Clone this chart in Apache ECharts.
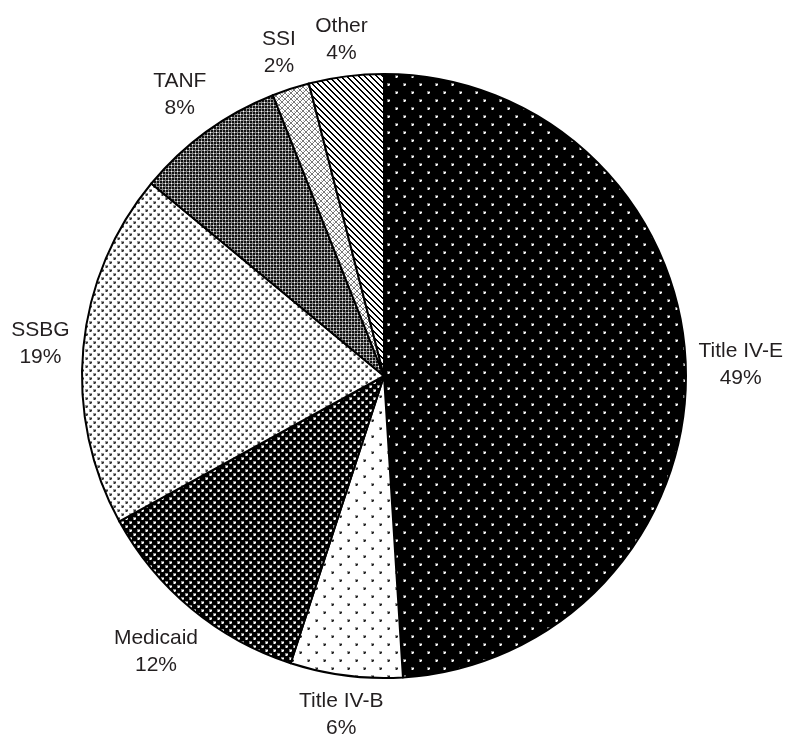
<!DOCTYPE html>
<html>
<head>
<meta charset="utf-8">
<script src="https://cdn.jsdelivr.net/npm/echarts@6/dist/echarts.min.js"></script>
<style>
  html, body { margin: 0; padding: 0; background: #fff; }
  #chart { width: 789px; height: 739px; }
</style>
</head>
<body>
<div id="chart"></div>
<script>
// Funding sources, clockwise from 12 o'clock
const categories = ['Title IV-E', 'Title IV-B', 'Medicaid', 'SSBG', 'TANF', 'SSI', 'Other'];
const shares = [49, 6, 12, 19, 8, 2, 4];

// Pie geometry
const CX = 384, CY = 376, R = 302, LABEL_GAP = 12;

// Small canvas tiles used as repeating fill patterns
function tile(w, h, draw) {
  const c = document.createElement('canvas');
  c.width = w; c.height = h;
  const g = c.getContext('2d');
  draw(g, w, h);
  return c;
}
function dot(g, x, y, core, halo) {
  g.fillStyle = halo; g.fillRect(x - 1, y - 1, 3, 3);
  g.fillStyle = core;
  g.fillRect(x, y, 2, 1); g.fillRect(x, y, 1, 2);
}

const fills = [
  // sparse white dots on black
  tile(16, 16, (g, w, h) => {
    g.fillStyle = '#000'; g.fillRect(0, 0, w, h);
    dot(g, 4, 4, '#fff', '#777'); dot(g, 12, 12, '#fff', '#777');
  }),
  // sparse dark dots on white
  tile(16, 16, (g, w, h) => {
    g.fillStyle = '#fff'; g.fillRect(0, 0, w, h);
    dot(g, 4, 4, '#222', '#999'); dot(g, 12, 12, '#222', '#999');
  }),
  // dense white dots on black
  tile(8, 8, (g, w, h) => {
    g.fillStyle = '#000'; g.fillRect(0, 0, w, h);
    dot(g, 2, 2, '#fff', '#888'); dot(g, 6, 6, '#fff', '#888');
  }),
  // dense grey dots on white
  tile(8, 8, (g, w, h) => {
    g.fillStyle = '#fff'; g.fillRect(0, 0, w, h);
    dot(g, 2, 2, '#333', '#999'); dot(g, 6, 6, '#333', '#999');
  }),
  // dark plaid
  tile(6, 6, (g, w, h) => {
    g.fillStyle = '#111'; g.fillRect(0, 0, w, h);
    g.fillStyle = '#8a8a8a';
    g.fillRect(0, 0, w, 1); g.fillRect(0, 0, 1, h);
    g.fillRect(0, 3, w, 1); g.fillRect(3, 0, 1, h);
    g.fillStyle = '#fff';
    g.fillRect(0, 0, 1, 1); g.fillRect(3, 3, 1, 1);
  }),
  // light diagonal lattice
  tile(6, 6, (g, w, h) => {
    g.fillStyle = '#fff'; g.fillRect(0, 0, w, h);
    g.fillStyle = '#777';
    for (let i = 0; i < 6; i++) { g.fillRect(i, i, 1, 1); g.fillRect(5 - i, i, 1, 1); }
    g.fillStyle = '#bbb';
    g.fillRect(0, 3, 1, 1); g.fillRect(3, 0, 1, 1);
  }),
  // black diagonal stripes
  tile(6, 6, (g, w, h) => {
    g.fillStyle = '#fff'; g.fillRect(0, 0, w, h);
    g.fillStyle = '#000';
    for (let i = 0; i < 6; i++) { g.fillRect(i, i, 1, 1); g.fillRect((i + 1) % 6, i, 1, 1); }
  })
];

const total = shares.reduce((a, b) => a + b, 0);

const chart = echarts.init(document.getElementById('chart'));
chart.setOption({
  animation: false,
  backgroundColor: '#fff',
  series: [{
    type: 'pie',
    silent: true,
    center: [CX, CY],
    radius: R,
    startAngle: 90,
    clockwise: true,
    avoidLabelOverlap: false,
    itemStyle: { borderColor: '#000', borderWidth: 2 },
    label: {
      show: true,
      position: 'outside',
      formatter: '{b}\n{c}%',
      fontFamily: '"Liberation Sans", Arial, sans-serif',
      fontSize: 21,
      lineHeight: 27,
      color: '#231f20'
    },
    labelLine: { show: false },
    // centre each two-line label just outside the middle of its slice
    labelLayout: function (p) {
      const i = p.dataIndex;
      const before = shares.slice(0, i).reduce((a, b) => a + b, 0);
      const ang = 2 * Math.PI * (before + shares[i] / 2) / total;
      const sx = Math.sin(ang), sy = -Math.cos(ang);
      const w = p.labelRect.width, h = p.labelRect.height - 10;
      const d = R + LABEL_GAP + Math.abs(sx) * w / 2 + Math.abs(sy) * h / 2;
      return { x: CX + d * sx, y: CY + d * sy, align: 'center', verticalAlign: 'middle' };
    },
    data: categories.map((name, i) => ({
      name: name,
      value: shares[i],
      itemStyle: { color: { image: fills[i], repeat: 'repeat' } }
    }))
  }]
});
</script>
</body>
</html>
